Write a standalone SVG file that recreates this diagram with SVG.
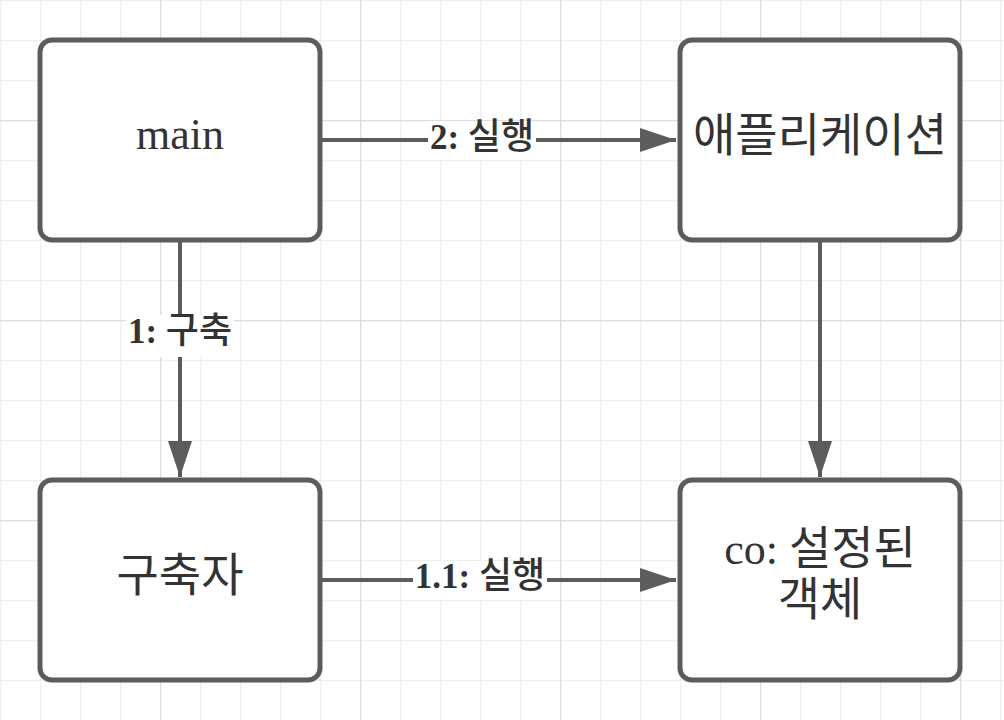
<svg xmlns="http://www.w3.org/2000/svg" width="1004" height="720" viewBox="0 0 1004 720">
<defs>
<pattern id="minor" width="40" height="40" patternUnits="userSpaceOnUse">
<path d="M0 0.5H40M0.5 0V40" fill="none" stroke="#eeeeee" stroke-width="1.5"/>
</pattern>
<pattern id="major" x="160" y="120" width="200" height="200" patternUnits="userSpaceOnUse">
<path d="M0 0.5H200M0.5 0V200" fill="none" stroke="#dddddd" stroke-width="1.5"/>
</pattern>
<marker id="arr" viewBox="0 0 36 24" refX="36" refY="12" markerWidth="36" markerHeight="24" markerUnits="userSpaceOnUse" orient="auto">
<path d="M0 0L36 12L0 24Z" fill="#5c5c5c"/>
</marker>
</defs>
<style>
.box{fill:#fff;stroke:#5c5c5c;stroke-width:5}
.nt{font-family:"Liberation Serif","Noto Sans CJK KR",serif;font-size:44px;fill:#333;text-anchor:middle}
.ko{font-size:46px}
.edge{fill:none;stroke:#5c5c5c;stroke-width:4}
.lbg{fill:#fff}
.lt{font-family:"Liberation Serif","Noto Sans CJK KR",serif;font-size:35px;font-weight:bold;fill:#333;text-anchor:middle}
.lk{font-size:36px;font-weight:500}
</style>
<rect width="1004" height="720" fill="#fff"/>
<rect width="1004" height="720" fill="url(#minor)"/>
<rect width="1004" height="720" fill="url(#major)"/>
<g id="connectors">
<path class="edge" d="M322 140H676" marker-end="url(#arr)"/>
<path class="edge" d="M180 242V477" marker-end="url(#arr)"/>
<path class="edge" d="M820 242V477" marker-end="url(#arr)"/>
<path class="edge" d="M322 580H676" marker-end="url(#arr)"/>
<rect class="lbg" x="428" y="121" width="108" height="38"/>
<text class="lt" x="482" y="149">2: <tspan class="lk">실행</tspan></text>
<rect class="lbg" x="126" y="315" width="108" height="42"/>
<text class="lt" x="180" y="343">1: <tspan class="lk">구축</tspan></text>
<rect class="lbg" x="413" y="561" width="134" height="38"/>
<text class="lt" x="480" y="588">1.1: <tspan class="lk">실행</tspan></text>
</g>
<g id="node-main">
<rect class="box" x="40" y="40" width="280" height="200" rx="12"/>
<text class="nt" x="180" y="149">main</text>
</g>
<g id="node-app">
<rect class="box" x="680" y="40" width="280" height="200" rx="12"/>
<text class="nt ko" x="820" y="151">애플리케이션</text>
</g>
<g id="node-builder">
<rect class="box" x="40" y="480" width="280" height="200" rx="12"/>
<text class="nt ko" x="180" y="591">구축자</text>
</g>
<g id="node-co">
<rect class="box" x="680" y="480" width="280" height="200" rx="12"/>
<text class="nt" x="820" y="564">co: <tspan class="ko">설정된</tspan></text>
<text class="nt ko" x="820" y="615">객체</text>
</g>
</svg>
